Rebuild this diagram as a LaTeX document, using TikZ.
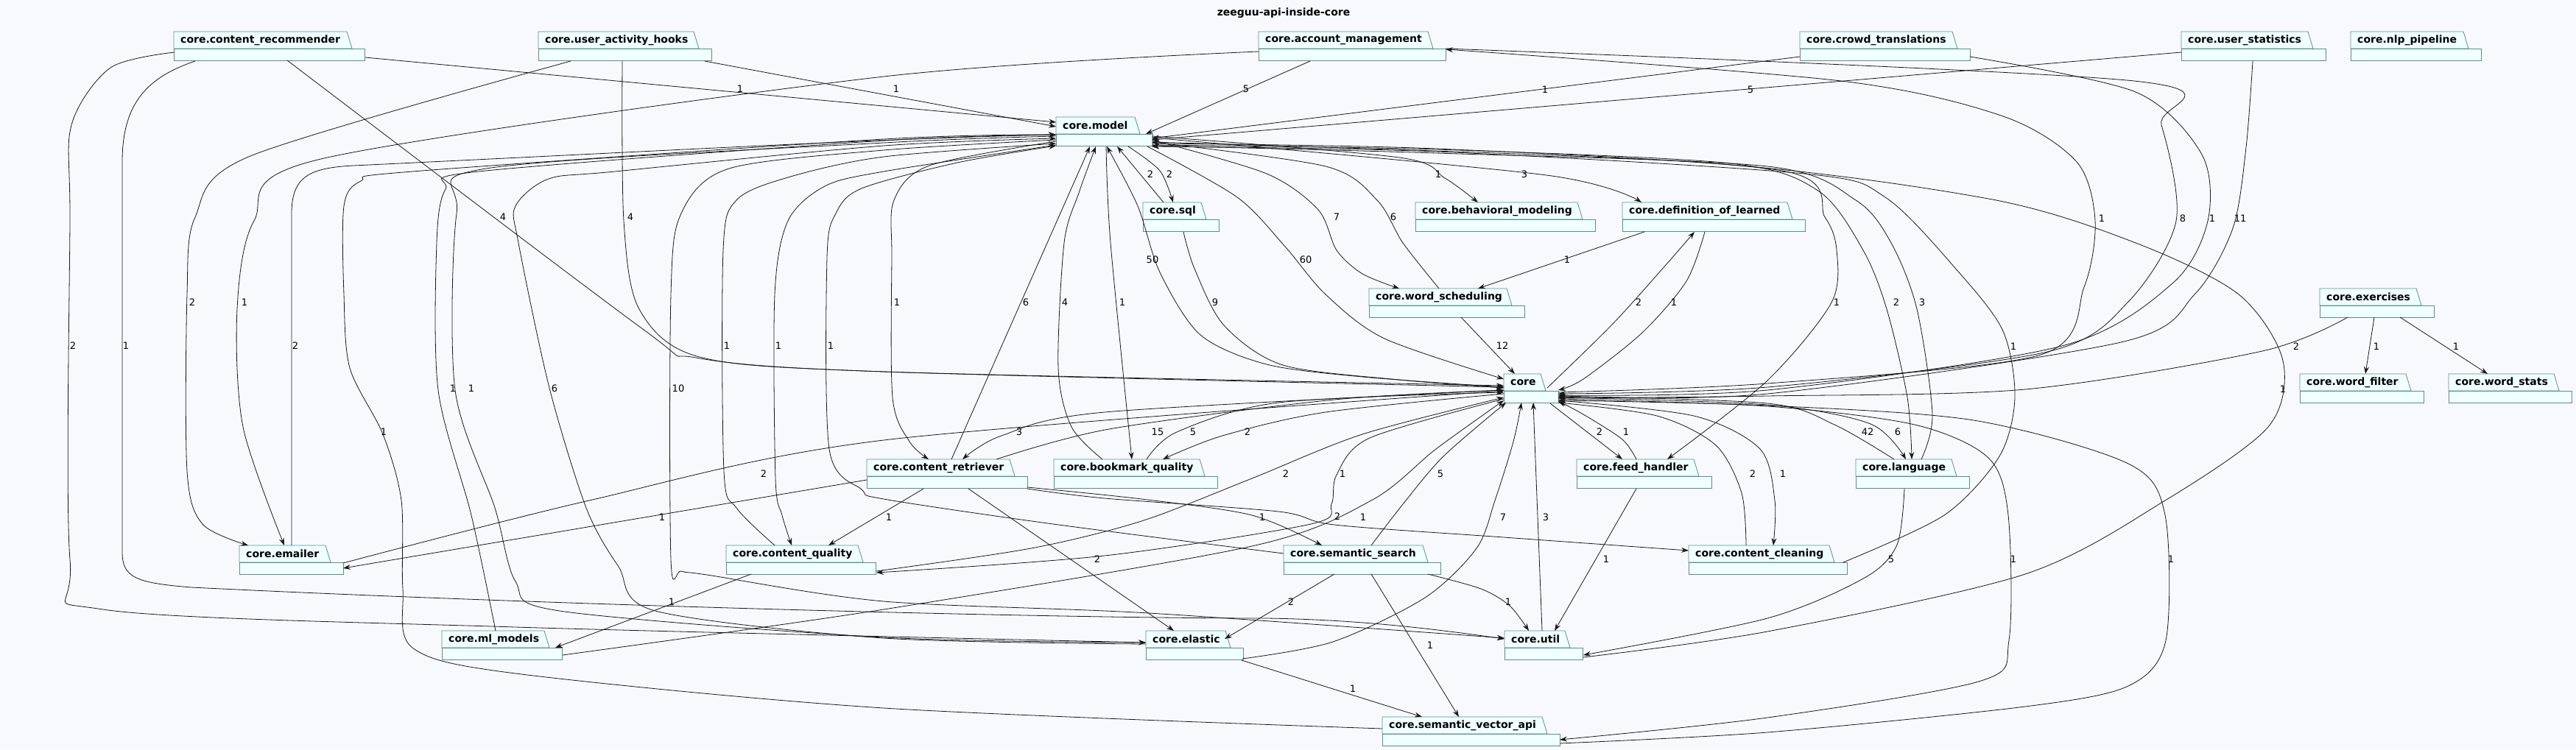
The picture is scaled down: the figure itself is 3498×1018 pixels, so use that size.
\documentclass[tikz,border=0pt]{standalone}
\usepackage{fontspec}
\setmainfont{DejaVu Sans}
\usetikzlibrary{arrows.meta,calc}
\definecolor{bgcol}{HTML}{F8F9FD}
\definecolor{pkgfill}{HTML}{F0FFFF}
\definecolor{pkgborder}{HTML}{5F8C8C}
\definecolor{edgecol}{HTML}{181818}
\tikzset{
  pkgshape/.style={draw=pkgborder,fill=pkgfill,line width=0.8pt},
  pkgtext/.style={font=\fontsize{14}{16}\selectfont\bfseries,inner sep=0pt,anchor=west},
  pkgarea/.style={inner sep=0pt,outer sep=0pt,minimum height=39pt},
  dep/.style={draw=edgecol,line width=0.8pt,-{Stealth[length=10pt,width=7pt,inset=3.5pt]}},
  lbl/.style={font=\fontsize{13}{15}\selectfont,inner sep=0pt},
  titletext/.style={font=\fontsize{14}{16}\selectfont\bfseries,inner sep=0pt}
}
% package: name, left x, tab right x, top y, label
\newcommand{\pkg}[5]{%
  \draw[pkgshape] (#2,#4+23) -- (#2,#4) -- (#3-7,#4) -- (#3,#4+23) -- cycle;
  \draw[pkgshape] (#2,#4+23) rectangle (#3+17,#4+39);
  \node[pkgtext] at (#2+9,#4+11.5) {#5};
  \node[pkgarea,minimum width={#3+17-#2}] (#1) at ({(#2+#3+17)/2},#4+19.5) {};
}
\begin{document}
\begin{tikzpicture}[x=1pt,y=-1pt]
\useasboundingbox[fill=bgcol] (0,0) rectangle (3498,1018);
\node[titletext] (title) at (1743,18) {zeeguu-api-inside-core};

% packages
\pkg{recommender}{236}{478}{43}{core.content\_recommender}
\pkg{hooks}{731}{949}{43}{core.user\_activity\_hooks}
\pkg{account}{1709}{1946}{43}{core.account\_management}
\pkg{crowd}{2444}{2658}{43}{core.crowd\_translations}
\pkg{userstats}{2962}{3141}{43}{core.user\_statistics}
\pkg{nlp}{3192}{3352}{43}{core.nlp\_pipeline}
\pkg{model}{1434}{1548}{159}{core.model}
\pkg{sql}{1552}{1638}{275}{core.sql}
\pkg{behav}{1922}{2149}{275}{core.behavioral\_modeling}
\pkg{defn}{2203}{2434}{275}{core.definition\_of\_learned}
\pkg{sched}{1859}{2053}{392}{core.word\_scheduling}
\pkg{exercises}{3150}{3288}{392}{core.exercises}
\pkg{core}{2042}{2099}{508}{core}
\pkg{wfilter}{3123}{3274}{508}{core.word\_filter}
\pkg{wstats}{3325}{3475}{508}{core.word\_stats}
\pkg{retriever}{1177}{1378}{624}{core.content\_retriever}
\pkg{bookmark}{1431}{1636}{624}{core.bookmark\_quality}
\pkg{feed}{2141}{2307}{624}{core.feed\_handler}
\pkg{language}{2520}{2657}{624}{core.language}
\pkg{emailer}{325}{449}{741}{core.emailer}
\pkg{quality}{986}{1172}{741}{core.content\_quality}
\pkg{semsearch}{1743}{1939}{741}{core.semantic\_search}
\pkg{cleaning}{2293}{2491}{741}{core.content\_cleaning}
\pkg{mlmodels}{600}{746}{857}{core.ml\_models}
\pkg{elastic}{1556}{1671}{857}{core.elastic}
\pkg{util}{2043}{2132}{857}{core.util}
\pkg{vector}{1877}{2101}{974}{core.semantic\_vector\_api}

% top row
\draw[dep] ($(recommender.north west)+(260,35)$) -- ($(model.north west)+(0,7)$) node[lbl,at={(1005,121)}] {1};
\draw[dep] ($(hooks.north west)+(226,40)$) -- ($(model.north west)+(0,13)$) node[lbl,at={(1217,121)}] {1};
\draw[dep] ($(account.north west)+(70,40)$) -- ($(model.north west)+(122,23)$) node[lbl,at={(1692,121)}] {5};
\draw[dep] ($(crowd.north west)+(0,34)$) -- ($(model.north west)+(130,29)$) node[lbl,at={(2098,122)}] {1};
\draw[dep] ($(userstats.north west)+(0,28)$) -- ($(model.north west)+(130,31)$) node[lbl,at={(2377,122)}] {5};
\draw[dep] plot[smooth,tension=.5] coordinates {($(recommender.north west)+(154,39)$) (870,445) (945,486) (1200,505) ($(core.north west)+(0,16)$)} node[lbl,at={(683,295)}] {4};
\draw[dep] plot[smooth,tension=.5] coordinates {($(hooks.north west)+(114,40)$) (847,300) (868,420) (950,485) (1200,505) ($(core.north west)+(0,18)$)} node[lbl,at={(856,295)}] {4};
\draw[dep] plot[smooth,tension=.5] coordinates {($(hooks.north west)+(44,40)$) (340,212) (265,295) (254,400) (254,640) (275,712) ($(emailer.north west)+(12,0)$)} node[lbl,at={(261,411)}] {2};
\draw[dep] plot[smooth,tension=.5] coordinates {($(account.north west)+(0,27)$) (1200,104) (440,215) (345,300) (322,420) (330,580) ($(emailer.north west)+(61,0)$)} node[lbl,at={(332,411)}] {1};
\draw[dep] plot[smooth,tension=.5] coordinates {($(recommender.north west)+(1,28)$) (150,92) (97,170) (95,300) (95,760) (140,828) (700,852) ($(elastic.north west)+(0,16)$)} node[lbl,at={(99,470)}] {2};
\draw[dep] ($(recommender.north west)+(29,40)$) .. controls (200,105) and (166,140) .. (166,220) -- (166,750) .. controls (166,785) and (185,792) .. (260,798) .. controls (700,820) and (1400,840) .. (1720,840) .. controls (1850,842) and (1950,855) .. ($(util.north west)+(0,11)$) node[lbl,at={(171,470)}] {1};
\draw[dep] plot[smooth,tension=.5] coordinates {($(core.north west)+(74,25)$) (2400,521) (2771,482) (2830,390) (2845,300) (2820,220) (2720,158) (2500,110) ($(account.north west)+(254,24)$)} node[lbl,at={(2854,297)}] {1};
\draw[dep] plot[smooth,tension=.5] coordinates {($(account.north west)+(254,23)$) (2898,110) (2935,170) (2955,300) (2890,410) (2780,478) (2400,526) ($(core.north west)+(74,27)$)} node[lbl,at={(2964,297)}] {8};
\draw[dep] plot[smooth,tension=.5] coordinates {($(crowd.north west)+(231,34)$) (2900,125) (2990,210) (2998,300) (2950,385) (2800,470) (2400,530) ($(core.north west)+(74,29)$)} node[lbl,at={(3004,297)}] {1};
\draw[dep] plot[smooth,tension=.5] coordinates {($(userstats.north west)+(97,40)$) (3050,200) (3032,310) (2980,400) (2880,465) (2400,535) ($(core.north west)+(74,31)$)} node[lbl,at={(3042,297)}] {11};

% exercises
\draw[dep] plot[smooth,tension=.5] coordinates {($(exercises.north west)+(38,39)$) (3072,477) (2750,529) (2400,538) ($(core.north west)+(74,33)$)} node[lbl,at={(3118,471)}] {2};
\draw[dep] ($(exercises.north west)+(74,39)$) -- ($(wfilter.north west)+(89,0)$) node[lbl,at={(3227,471)}] {1};
\draw[dep] ($(exercises.north west)+(109,39)$) -- ($(wstats.north west)+(53,0)$) node[lbl,at={(3335,471)}] {1};

% model, sql, scheduling, definitions
\draw[dep] plot[smooth,tension=.5] coordinates {($(model.north west)+(98,40)$) (1575,232) ($(sql.north west)+(41,0)$)} node[lbl,at={(1588,237)}] {2};
\draw[dep] ($(sql.north west)+(28,0)$) -- ($(model.north west)+(83,40)$) node[lbl,at={(1562,237)}] {2};
\draw[dep] plot[smooth,tension=.5] coordinates {($(sql.north west)+(55,40)$) (1622,365) (1662,442) (1742,496) (1900,516) ($(core.north west)+(0,19)$)} node[lbl,at={(1650,411)}] {9};
\draw[dep] plot[smooth,tension=.5] coordinates {($(core.north west)+(0,18)$) (1850,512) (1720,495) (1630,455) (1575,370) (1545,280) ($(model.north west)+(69,40)$)} node[lbl,at={(1565,353)}] {50};
\draw[dep] plot[smooth,tension=.5] coordinates {($(model.north west)+(124,40)$) (1680,268) (1745,335) (1800,400) (1880,460) ($(core.north west)+(0,7)$)} node[lbl,at={(1773,353)}] {60};
\draw[dep] plot[smooth,tension=.5] coordinates {($(model.north west)+(130,26)$) (1900,214) (1962,242) ($(behav.north west)+(85,0)$)} node[lbl,at={(1953,237)}] {1};
\draw[dep] plot[smooth,tension=.5] coordinates {($(model.north west)+(130,28)$) (2100,238) ($(defn.north west)+(26,0)$)} node[lbl,at={(2070,237)}] {3};
\draw[dep] plot[smooth,tension=.5] coordinates {($(model.north west)+(130,31)$) (1720,236) (1790,285) (1815,340) (1850,372) ($(sched.north west)+(41,0)$)} node[lbl,at={(1815,295)}] {7};
\draw[dep] plot[smooth,tension=.5] coordinates {($(sched.north west)+(95,0)$) (1905,330) (1870,272) (1800,226) ($(model.north west)+(130,34)$)} node[lbl,at={(1892,295)}] {6};
\draw[dep] ($(defn.north west)+(30,40)$) -- ($(sched.north west)+(148,0)$) node[lbl,at={(2128,353)}] {1};
\draw[dep] plot[smooth,tension=.5] coordinates {($(core.north west)+(59,19)$) (2190,440) (2262,360) ($(defn.north west)+(98,40)$)} node[lbl,at={(2225,411)}] {2};
\draw[dep] plot[smooth,tension=.5] coordinates {($(defn.north west)+(112,40)$) (2290,382) (2230,452) (2150,515) ($(core.north west)+(74,22)$)} node[lbl,at={(2273,411)}] {1};
\draw[dep] ($(sched.north west)+(125,39)$) -- ($(core.north west)+(15,0)$) node[lbl,at={(2040,470)}] {12};

% retriever, bookmark
\draw[dep] plot[smooth,tension=.5] coordinates {($(model.north west)+(0,33)$) (1262,225) (1214,272) (1211,350) (1212,540) (1235,600) ($(retriever.north west)+(84,0)$)} node[lbl,at={(1218,411)}] {1};
\draw[dep] ($(retriever.north west)+(115,0)$) -- ($(model.north west)+(46,40)$) node[lbl,at={(1393,411)}] {6};
\draw[dep] plot[smooth,tension=.5] coordinates {($(core.north west)+(0,22)$) (1500,560) (1360,592) ($(retriever.north west)+(130,0)$)} node[lbl,at={(1384,587)}] {3};
\draw[dep] plot[smooth,tension=.5] coordinates {($(retriever.north west)+(176,0)$) (1506,583) (1812,543) ($(core.north west)+(0,22)$)} node[lbl,at={(1572,587)}] {15};
\draw[dep] plot[smooth,tension=.5] coordinates {($(bookmark.north west)+(66,0)$) (1455,580) (1437,500) (1445,330) (1465,262) ($(model.north west)+(54,40)$)} node[lbl,at={(1446,411)}] {4};
\draw[dep] plot[smooth,tension=.5] coordinates {($(model.north west)+(68,40)$) (1508,330) ($(bookmark.north west)+(106,0)$)} node[lbl,at={(1524,411)}] {1};
\draw[dep] plot[smooth,tension=.5] coordinates {($(bookmark.north west)+(126,0)$) (1598,587) (1736,547) ($(core.north west)+(0,25)$)} node[lbl,at={(1620,587)}] {5};
\draw[dep] plot[smooth,tension=.5] coordinates {($(core.north west)+(0,27)$) (1800,560) (1660,592) ($(bookmark.north west)+(148,0)$)} node[lbl,at={(1694,587)}] {2};

% left fan into model
\draw[dep] ($(emailer.north west)+(71,0)$) -- (396,290) .. controls (396,240) and (420,228) .. (480,225) .. controls (900,205) and (1200,188) .. ($(model.north west)+(0,24)$) node[lbl,at={(401,470)}] {2};
\draw[dep] plot[smooth,tension=.5] coordinates {($(mlmodels.north west)+(73,0)$) (640,700) (595,530) (593,330) (605,257) (650,233) (1200,191) ($(model.north west)+(0,24)$)} node[lbl,at={(615,528)}] {1};
\draw[dep] plot[smooth,tension=.5] coordinates {($(model.north west)+(0,26)$) (1200,194) (660,229) (620,290) (618,530) (672,690) (700,790) (760,830) (1200,866) ($(elastic.north west)+(0,16)$)} node[lbl,at={(640,528)}] {1};
\draw[dep] plot[smooth,tension=.5] coordinates {($(elastic.north west)+(0,18)$) (1200,867) (890,830) (840,770) (796,690) (746,527) (704,330) (700,280) (745,243) (835,233) (1200,198) ($(model.north west)+(0,29)$)} node[lbl,at={(753,528)}] {6};
\draw[dep] plot[smooth,tension=.5] coordinates {($(vector.north west)+(0,16)$) (1200,962) (700,915) (560,880) (547,800) (545,680) (520,590) (475,500) (467,400) (467,280) (490,246) (560,233) (1200,189) ($(model.north west)+(0,24)$)} node[lbl,at={(521,587)}] {1};
\draw[dep] plot[smooth,tension=.5] coordinates {($(model.north west)+(0,31)$) (1200,204) (990,229) (925,290) (911,400) (911,760) (925,776) (960,781) (1200,817) (1560,833) ($(util.north west)+(0,10)$)} node[lbl,at={(921,528)}] {10};
\draw[dep] plot[smooth,tension=.5] coordinates {($(quality.north west)+(66,0)$) (1000,690) (983,640) (982,340) (1000,272) (1070,241) (1200,213) ($(model.north west)+(0,36)$)} node[lbl,at={(987,470)}] {1};
\draw[dep] plot[smooth,tension=.5] coordinates {($(model.north west)+(0,38)$) (1200,233) (1120,253) (1070,300) (1052,400) (1053,650) (1062,700) ($(quality.north west)+(89,0)$)} node[lbl,at={(1057,470)}] {1};
\draw[dep] plot[smooth,tension=.5] coordinates {($(semsearch.north west)+(0,11)$) (1430,712) (1200,678) (1170,665) (1126,610) (1123,350) (1135,290) (1170,256) (1300,221) ($(model.north west)+(0,39)$)} node[lbl,at={(1128,470)}] {1};

% right fan into model
\draw[dep] plot[smooth,tension=.5] coordinates {($(cleaning.north west)+(210,23)$) (2640,700) (2715,620) (2736,540) (2720,450) (2660,370) (2560,268) (2450,236) (1950,206) ($(model.north west)+(130,40)$)} node[lbl,at={(2734,471)}] {1};
\draw[dep] plot[smooth,tension=.5] coordinates {($(model.north west)+(130,38)$) (1950,203) (2350,222) (2470,260) (2530,340) (2562,420) (2590,540) ($(language.north west)+(76,0)$)} node[lbl,at={(2575,411)}] {2};
\draw[dep] plot[smooth,tension=.5] coordinates {($(language.north west)+(89,0)$) (2624,563) (2603,420) (2568,330) (2520,272) (2400,226) (1950,208) ($(model.north west)+(130,39)$)} node[lbl,at={(2610,411)}] {3};
\draw[dep] plot[smooth,tension=.5] coordinates {($(model.north west)+(130,36)$) (1950,202) (2420,232) (2478,295) (2494,340) (2487,411) (2400,517) ($(feed.north west)+(123,0)$)} node[lbl,at={(2494,411)}] {1};
\draw[dep] plot[smooth,tension=.5] coordinates {($(util.north west)+(107,36)$) (2400,858) (2750,780) (2940,680) (3080,580) (3100,490) (3040,400) (2900,330) (2700,270) (2300,220) ($(model.north west)+(130,34)$)} node[lbl,at={(3100,529)}] {1};

% around core, lower part
\draw[dep] plot[smooth,tension=.5] coordinates {($(emailer.north west)+(141,24)$) (800,680) (1200,598) ($(core.north west)+(0,23)$)} node[lbl,at={(1037,644)}] {2};
\draw[dep] ($(retriever.north west)+(0,28)$) -- ($(emailer.north west)+(141,31)$) node[lbl,at={(899,703)}] {1};
\draw[dep] plot[smooth,tension=.5] coordinates {($(quality.north west)+(204,35)$) (1400,745) (1550,708) (1700,650) (1850,590) ($(core.north west)+(0,32)$)} node[lbl,at={(1746,644)}] {2};
\draw[dep] plot[smooth,tension=.5] coordinates {($(core.north west)+(0,34)$) (1860,595) (1815,645) (1808,685) (1780,712) (1500,755) ($(quality.north west)+(204,37)$)} node[lbl,at={(1823,644)}] {1};
\draw[dep] plot[smooth,tension=.5] coordinates {($(mlmodels.north west)+(164,33)$) (1200,828) (1700,742) (1862,680) (1950,610) ($(core.north west)+(0,36)$)} node[lbl,at={(1851,703)}] {1};
\draw[dep] plot[smooth,tension=.5] coordinates {($(semsearch.north west)+(119,0)$) (1905,685) (1960,620) ($(core.north west)+(3,39)$)} node[lbl,at={(1956,644)}] {5};
\draw[dep] plot[smooth,tension=.5] coordinates {($(elastic.north west)+(131,38)$) (1810,872) (1935,812) (2005,745) (2030,680) (2055,600) ($(core.north west)+(24,39)$)} node[lbl,at={(2041,703)}] {7};
\draw[dep] ($(util.north west)+(51,0)$) -- ($(core.north west)+(40,39)$) node[lbl,at={(2099,703)}] {3};
\draw[dep] ($(feed.north west)+(81,40)$) -- ($(util.north west)+(68,0)$) node[lbl,at={(2181,760)}] {1};
\draw[dep] ($(core.north west)+(63,40)$) -- ($(feed.north west)+(62,0)$) node[lbl,at={(2172,587)}] {2};
\draw[dep] plot[smooth,tension=.5] coordinates {($(feed.north west)+(81,0)$) (2203,597) (2150,563) ($(core.north west)+(74,37)$)} node[lbl,at={(2208,587)}] {1};
\draw[dep] plot[smooth,tension=.5] coordinates {($(core.north west)+(74,36)$) (2300,565) (2390,610) (2410,680) ($(cleaning.north west)+(115,0)$)} node[lbl,at={(2421,644)}] {1};
\draw[dep] plot[smooth,tension=.5] coordinates {($(cleaning.north west)+(78,0)$) (2365,670) (2330,605) (2250,565) ($(core.north west)+(74,39)$)} node[lbl,at={(2380,644)}] {2};
\draw[dep] plot[smooth,tension=.5] coordinates {($(core.north west)+(74,32)$) (2400,550) (2540,576) ($(language.north west)+(68,0)$)} node[lbl,at={(2577,587)}] {6};
\draw[dep] plot[smooth,tension=.5] coordinates {($(language.north west)+(52,0)$) (2491,577) (2400,548) ($(core.north west)+(74,30)$)} node[lbl,at={(2536,587)}] {42};
\draw[dep] plot[smooth,tension=.5] coordinates {($(language.north west)+(66,40)$) (2576,740) (2532,785) (2400,840) ($(util.north west)+(107,33)$)} node[lbl,at={(2568,760)}] {5};
\draw[dep] plot[smooth,tension=.5] coordinates {($(core.north west)+(74,34)$) (2400,552) (2600,577) (2700,622) (2727,700) (2728,870) (2690,925) (2400,975) ($(vector.north west)+(241,31)$)} node[lbl,at={(2734,760)}] {1};
\draw[dep] plot[smooth,tension=.5] coordinates {($(vector.north west)+(241,36)$) (2400,995) (2750,960) (2890,932) (2941,870) (2940,700) (2890,630) (2680,571) (2400,551) ($(core.north west)+(74,36)$)} node[lbl,at={(2948,760)}] {1};

% retriever and semantic search below
\draw[dep] ($(retriever.north west)+(77,40)$) -- ($(quality.north west)+(139,0)$) node[lbl,at={(1207,703)}] {1};
\draw[dep] ($(retriever.north west)+(138,40)$) -- ($(elastic.north west)+(38,0)$) node[lbl,at={(1490,760)}] {2};
\draw[dep] plot[smooth,tension=.5] coordinates {($(retriever.north west)+(218,38)$) (1550,678) (1700,700) ($(semsearch.north west)+(52,0)$)} node[lbl,at={(1714,703)}] {1};
\draw[dep] plot[smooth,tension=.5] coordinates {($(retriever.north west)+(218,40)$) (1500,677) (1736,695) (1812,713) (2042,730) ($(cleaning.north west)+(0,7)$)} node[lbl,at={(1816,702)}] {2};
\draw[dep] ($(quality.north west)+(34,39)$) -- ($(mlmodels.north west)+(154,23)$) node[lbl,at={(912,818)}] {1};
\draw[dep] ($(semsearch.north west)+(69,39)$) -- ($(elastic.north west)+(107,11)$) node[lbl,at={(1753,818)}] {2};
\draw[dep] plot[smooth,tension=.5] coordinates {($(semsearch.north west)+(196,39)$) (2011,800) (2050,823) ($(util.north west)+(33,0)$)} node[lbl,at={(2048,818)}] {1};
\draw[dep] ($(semsearch.north west)+(119,39)$) -- ($(vector.north west)+(104,0)$) node[lbl,at={(1942,877)}] {1};
\draw[dep] ($(elastic.north west)+(130,40)$) -- ($(vector.north west)+(54,0)$) node[lbl,at={(1837,936)}] {1};
\end{tikzpicture}
\end{document}
